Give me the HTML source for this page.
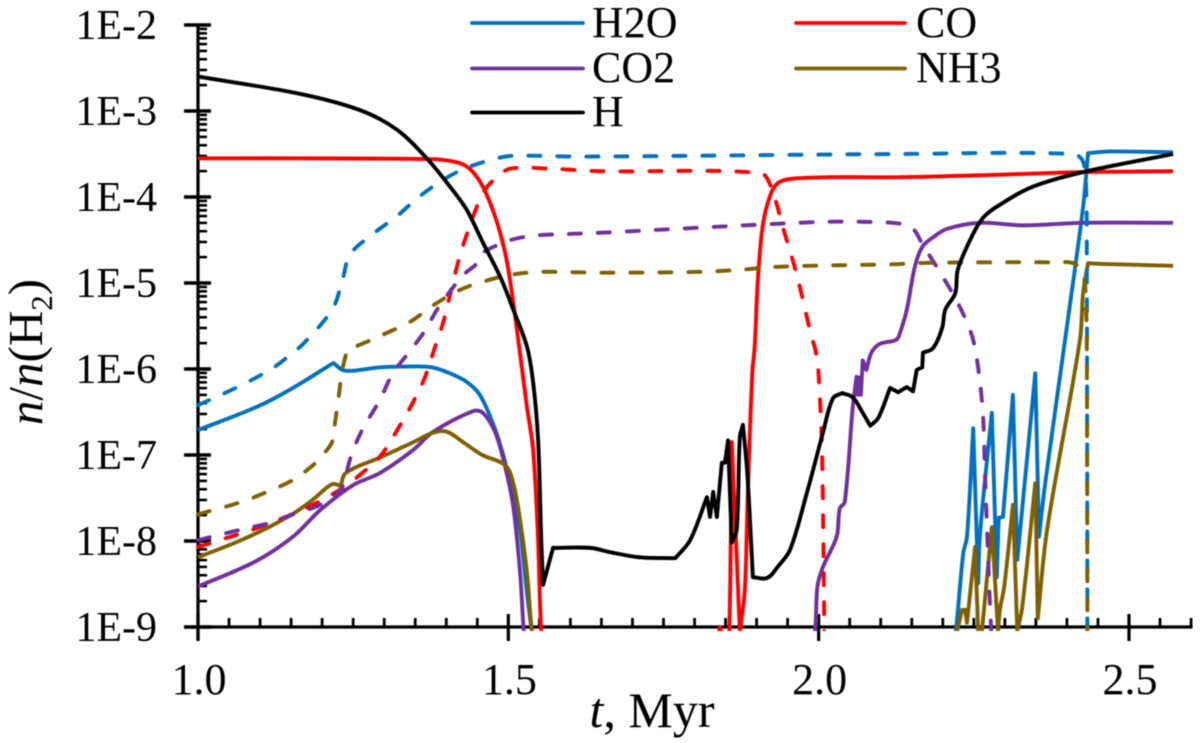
<!DOCTYPE html>
<html lang="en">
<head>
<meta charset="utf-8">
<title>Abundances vs time</title>
<style>
html,body{margin:0;padding:0;background:#fff;}
svg{display:block;filter:blur(0.4px);}
text{font-family:"Liberation Serif",serif;fill:#000;}
</style>
</head>
<body>
<svg id="chart" xmlns="http://www.w3.org/2000/svg" width="1200" height="743" viewBox="0 0 1200 743">
  <defs>
    <clipPath id="plot-clip"><rect x="196" y="20" width="1000" height="611"></rect></clipPath>
  </defs>
  <g id="axes"></g>
  <g id="series" clip-path="url(#plot-clip)"></g>
  <text x="652" y="727" font-size="50" text-anchor="middle"><tspan font-style="italic">t</tspan>, Myr</text>
  <text transform="translate(42,352) rotate(-90)" font-size="49" text-anchor="middle"><tspan font-style="italic">n</tspan>/<tspan font-style="italic">n</tspan>(H<tspan font-size="31" dy="10">2</tspan><tspan dy="-10">)</tspan></text>
  <g>
    <g>
      <line x1="472" y1="23" x2="583" y2="23" stroke="#0070C0" stroke-width="3.8" stroke-linecap="round"></line>
      <text x="592" y="37" font-size="44">H2O</text>
    </g>
    <g>
      <line x1="796" y1="23" x2="905" y2="23" stroke="#FF0000" stroke-width="3.8" stroke-linecap="round"></line>
      <text x="916" y="37" font-size="44">CO</text>
    </g>
    <g>
      <line x1="472" y1="68.5" x2="583" y2="68.5" stroke="#7030A0" stroke-width="3.8" stroke-linecap="round"></line>
      <text x="592" y="82" font-size="44">CO2</text>
    </g>
    <g>
      <line x1="796" y1="68.5" x2="905" y2="68.5" stroke="#7F6000" stroke-width="3.8" stroke-linecap="round"></line>
      <text x="916" y="82" font-size="44">NH3</text>
    </g>
    <g>
      <line x1="472" y1="112.5" x2="583" y2="112.5" stroke="#000" stroke-width="3.8" stroke-linecap="round"></line>
      <text x="592" y="126" font-size="44">H</text>
    </g>
  </g>
</svg>
<script>
// Tick data
const xMajorTicks = [1.0, 1.5, 2.0, 2.5];
const xTickLabels = ["1.0", "1.5", "2.0", "2.5"];
const yDecades = [-2, -3, -4, -5, -6, -7, -8, -9];
const yTickLabels = ["1E-2", "1E-3", "1E-4", "1E-5", "1E-6", "1E-7", "1E-8", "1E-9"];
const xMin = 1.0;
const xMax = 2.6;
const xMinorStep = 0.05;

// Series data: time in Myr, abundance as log10(n/n(H2))
const h2oSolidT = [1.000,1.095,1.153,1.218,1.237,1.293,1.347,1.377,1.406,1.433,1.454,1.475,1.491,1.508,1.519,1.530,1.538,1.545,2.215,2.221,2.233,2.239,2.249,2.257,2.260,2.279,2.287,2.290,2.297,2.313,2.320,2.349,2.355,2.365,2.397,2.426,2.434,2.469,2.571];
const h2oSolidLog = [-6.71,-6.44,-6.22,-5.93,-6.02,-5.98,-5.97,-5.98,-6.05,-6.15,-6.30,-6.63,-6.98,-7.49,-7.87,-8.60,-9.05,-9.30,-9.30,-9.05,-8.14,-7.95,-6.69,-8.49,-7.91,-6.51,-8.42,-7.73,-7.72,-6.30,-8.22,-6.05,-7.95,-7.33,-5.66,-4.12,-3.49,-3.47,-3.48];

const coSolidT = [1.000,1.164,1.379,1.406,1.427,1.443,1.459,1.475,1.487,1.498,1.508,1.516,1.530,1.540,1.548,1.553,1.559,1.832,1.841,1.851,1.856,1.860,1.873,1.881,1.886,1.893,1.897,1.902,1.910,1.922,1.934,1.954,2.018,2.131,2.292,2.426,2.571];
const coSolidLog = [-3.55,-3.55,-3.56,-3.58,-3.62,-3.71,-3.88,-4.15,-4.42,-4.76,-5.23,-5.66,-6.44,-6.94,-7.99,-9.04,-9.30,-9.30,-9.00,-9.30,-9.05,-6.85,-9.05,-8.57,-7.41,-6.05,-5.74,-4.97,-4.33,-3.98,-3.84,-3.79,-3.77,-3.77,-3.74,-3.71,-3.70];

const co2SolidT = [1.000,1.092,1.153,1.197,1.250,1.293,1.347,1.379,1.443,1.459,1.479,1.495,1.508,1.519,1.525,1.530,1.985,1.994,1.998,2.007,2.029,2.034,2.042,2.055,2.061,2.063,2.066,2.068,2.071,2.077,2.085,2.098,2.125,2.131,2.142,2.155,2.167,2.184,2.207,2.260,2.329,2.426,2.571];
const co2SolidLog = [-8.53,-8.24,-7.95,-7.64,-7.35,-7.21,-6.94,-6.73,-6.49,-6.51,-6.74,-7.14,-7.60,-8.37,-9.05,-9.30,-9.30,-9.05,-8.53,-8.30,-7.95,-7.62,-7.55,-6.44,-6.09,-6.30,-6.10,-6.30,-5.90,-6.01,-5.81,-5.71,-5.66,-5.58,-5.31,-4.81,-4.58,-4.47,-4.37,-4.30,-4.33,-4.30,-4.30];

const nh3SolidT = [1.000,1.063,1.111,1.156,1.185,1.216,1.230,1.238,1.293,1.347,1.379,1.401,1.427,1.458,1.495,1.508,1.519,1.530,1.538,1.545,2.215,2.223,2.231,2.236,2.239,2.252,2.257,2.263,2.279,2.289,2.292,2.299,2.313,2.320,2.328,2.349,2.353,2.368,2.421,2.426,2.434,2.465,2.571];
const nh3SolidLog = [-8.19,-8.01,-7.85,-7.67,-7.52,-7.34,-7.36,-7.21,-7.03,-6.85,-6.74,-6.73,-6.85,-7.00,-7.12,-7.33,-7.76,-8.37,-9.05,-9.30,-9.30,-9.05,-8.80,-8.80,-8.95,-8.07,-9.05,-9.05,-7.84,-9.05,-8.80,-8.53,-7.58,-9.05,-8.77,-7.33,-8.90,-7.87,-5.66,-5.12,-4.77,-4.78,-4.80];

const hSolidT = [1.000,1.164,1.261,1.321,1.371,1.406,1.433,1.459,1.487,1.508,1.530,1.540,1.548,1.553,1.556,1.572,1.632,1.664,1.712,1.769,1.793,1.820,1.825,1.830,1.836,1.844,1.849,1.854,1.860,1.868,1.873,1.878,1.885,1.894,1.917,1.934,1.954,1.981,2.007,2.023,2.038,2.055,2.071,2.083,2.096,2.115,2.128,2.142,2.152,2.158,2.167,2.168,2.184,2.199,2.204,2.220,2.224,2.244,2.265,2.292,2.345,2.426,2.571];
const hSolidLog = [-2.60,-2.80,-2.99,-3.22,-3.57,-3.88,-4.15,-4.53,-4.93,-5.31,-5.74,-6.16,-6.83,-7.99,-8.51,-8.08,-8.08,-8.13,-8.19,-8.20,-7.99,-7.49,-7.72,-7.43,-7.72,-7.09,-7.09,-6.83,-8.02,-7.87,-6.79,-6.65,-7.21,-8.42,-8.43,-8.30,-8.10,-7.44,-6.74,-6.34,-6.28,-6.33,-6.51,-6.66,-6.57,-6.22,-6.27,-6.21,-6.26,-6.01,-5.98,-5.81,-5.76,-5.52,-5.31,-5.12,-4.85,-4.50,-4.24,-4.09,-3.88,-3.71,-3.50];

const h2oDashT = [1.000,1.055,1.116,1.153,1.172,1.216,1.232,1.245,1.280,1.321,1.354,1.395,1.433,1.482,1.508,1.620,2.131,2.410,2.426,2.431,2.432,2.433];
const h2oDashLog = [-6.42,-6.24,-6.01,-5.81,-5.69,-5.31,-4.99,-4.67,-4.44,-4.22,-4.01,-3.80,-3.66,-3.55,-3.52,-3.53,-3.50,-3.50,-3.59,-3.92,-4.58,-9.05];

const coDashT = [1.000,1.044,1.095,1.148,1.185,1.234,1.261,1.293,1.321,1.347,1.366,1.383,1.395,1.409,1.419,1.430,1.454,1.466,1.482,1.503,1.567,1.648,1.906,1.922,1.946,1.965,1.986,1.997,2.002,2.005,2.007,2.009];
const coDashLog = [-8.07,-7.97,-7.85,-7.70,-7.58,-7.38,-7.23,-7.02,-6.71,-6.38,-6.09,-5.72,-5.46,-5.05,-4.76,-4.50,-4.03,-3.88,-3.77,-3.67,-3.67,-3.70,-3.72,-3.86,-4.44,-4.91,-5.55,-5.86,-6.33,-6.83,-7.60,-9.05];

const co2DashT = [1.000,1.079,1.121,1.160,1.197,1.229,1.237,1.248,1.266,1.293,1.314,1.345,1.366,1.387,1.427,1.450,1.459,1.482,1.498,1.540,1.636,2.002,2.083,2.131,2.152,2.168,2.196,2.224,2.244,2.252,2.260,2.265,2.268,2.275,2.278];
const co2DashLog = [-7.99,-7.85,-7.78,-7.67,-7.58,-7.41,-7.26,-6.98,-6.69,-6.36,-6.05,-5.76,-5.55,-5.29,-4.91,-4.77,-4.65,-4.56,-4.51,-4.45,-4.42,-4.29,-4.29,-4.31,-4.37,-4.56,-4.88,-5.23,-5.55,-5.76,-6.16,-6.56,-7.21,-8.57,-9.05];

const nh3DashT = [1.000,1.068,1.111,1.153,1.185,1.201,1.216,1.219,1.226,1.232,1.240,1.280,1.298,1.342,1.379,1.422,1.466,1.508,1.551,1.648,1.809,1.866,1.939,2.131,2.147,2.260,2.384,2.410,2.426,2.431,2.432,2.433];
const nh3DashLog = [-7.69,-7.55,-7.43,-7.29,-7.12,-7.00,-6.85,-6.71,-6.36,-6.03,-5.78,-5.66,-5.60,-5.45,-5.26,-5.08,-4.97,-4.90,-4.87,-4.88,-4.87,-4.85,-4.81,-4.78,-4.77,-4.76,-4.76,-4.77,-4.88,-5.35,-5.66,-9.05];

// Axis functions
const X_LEFT = 198, PX_PER_MYR = 620.67, Y_TOP = 25, PX_PER_DECADE = 86;
function xScale(t) { return X_LEFT + (t - 1.0) * PX_PER_MYR; }
function yScale(lg) { return Y_TOP + (-2 - lg) * PX_PER_DECADE; }

const NS = "http://www.w3.org/2000/svg";
const axes = document.getElementById("axes");
const seriesGroup = document.getElementById("series");

function axisLine(x1, y1, x2, y2, w, name) {
  const l = document.createElementNS(NS, "line");
  l.setAttribute("x1", x1);
  l.setAttribute("y1", y1);
  l.setAttribute("x2", x2);
  l.setAttribute("y2", y2);
  l.setAttribute("stroke", "#000");
  l.setAttribute("stroke-width", w);
  
  
  axes.appendChild(l);
}
function axisText(x, y, str, anchor, size, name) {
  const t = document.createElementNS(NS, "text");
  t.setAttribute("x", x);
  t.setAttribute("y", y);
  t.setAttribute("font-size", size);
  t.setAttribute("text-anchor", anchor);
  t.textContent = str;
  
  
  axes.appendChild(t);
}

const yBottom = yScale(yDecades[yDecades.length - 1]);
axisLine(X_LEFT, yScale(yDecades[0]) - 1.5, X_LEFT, yBottom + 14, 3.2, "y-axis-line");
axisLine(184, yBottom, xScale(xMax) + 1.5, yBottom, 3.2, "x-axis-line");

yDecades.forEach(function (d, i) {
  axisLine(184, yScale(d), 211, yScale(d), 3.4, "y-major-tick");
  axisText(157, yScale(d) + 14, yTickLabels[i], "end", 42, "y-tick-label");
  if (i < yDecades.length - 1) {
    for (let m = 2; m <= 9; m++) {
      const ym = yScale(d - 1 + Math.log10(m));
      axisLine(X_LEFT, ym, 207, ym, 2.6, "y-minor-tick");
    }
  }
});

const nMinor = Math.round((xMax - xMin) / xMinorStep);
for (let k = 0; k <= nMinor; k++) {
  const tv = xMin + k * xMinorStep;
  axisLine(xScale(tv), yBottom - 9, xScale(tv), yBottom, 2.8, "x-minor-tick");
}
xMajorTicks.forEach(function (t, i) {
  axisLine(xScale(t), yBottom - 13, xScale(t), yBottom + 14, 3.2, "x-major-tick");
  axisText(xScale(t) + 1, 694, xTickLabels[i], "middle", 44, "x-tick-label");
});

// Builds a path that rounds gentle bends and leaves sharp spikes as corners.
function buildPath(tArr, logArr) {
  const pts = tArr.map(function (t, i) { return [xScale(t), yScale(logArr[i])]; });
  const tangents = pts.map(function (p, i) {
    if (i === 0 || i === pts.length - 1) return null;
    const ax = p[0] - pts[i - 1][0], ay = p[1] - pts[i - 1][1];
    const bx = pts[i + 1][0] - p[0], by = pts[i + 1][1] - p[1];
    const la = Math.hypot(ax, ay), lb = Math.hypot(bx, by);
    if (la === 0 || lb === 0) return null;
    const cos = (ax * bx + ay * by) / (la * lb);
    if (cos < 0.64) return null;
    const tx = pts[i + 1][0] - pts[i - 1][0], ty = pts[i + 1][1] - pts[i - 1][1];
    const lt = Math.hypot(tx, ty);
    return [tx / lt, ty / lt];
  });
  let d = "M" + pts[0][0].toFixed(2) + " " + pts[0][1].toFixed(2);
  for (let i = 0; i < pts.length - 1; i++) {
    const p = pts[i], q = pts[i + 1];
    const len = Math.hypot(q[0] - p[0], q[1] - p[1]);
    const ux = len ? (q[0] - p[0]) / len : 0, uy = len ? (q[1] - p[1]) / len : 0;
    const t0 = tangents[i] || [ux, uy], t1 = tangents[i + 1] || [ux, uy];
    d += "C" + (p[0] + t0[0] * len / 3).toFixed(2) + " " + (p[1] + t0[1] * len / 3).toFixed(2) + " " +
         (q[0] - t1[0] * len / 3).toFixed(2) + " " + (q[1] - t1[1] * len / 3).toFixed(2) + " " +
         q[0].toFixed(2) + " " + q[1].toFixed(2);
  }
  return d;
}

function drawSeries(tArr, logArr, color, dashed, name) {
  const p = document.createElementNS(NS, "path");
  p.setAttribute("d", buildPath(tArr, logArr));
  p.setAttribute("fill", "none");
  p.setAttribute("stroke", color);
  p.setAttribute("stroke-width", "3.9");
  p.setAttribute("stroke-linejoin", "round");
  if (dashed) {
    p.setAttribute("stroke-dasharray", "12 17");
    p.setAttribute("stroke-linecap", "round");
  }
  
  
  seriesGroup.appendChild(p);
}

drawSeries(h2oSolidT, h2oSolidLog, "#0070C0", false, "h2o-solid-line");
drawSeries(coSolidT, coSolidLog, "#FF0000", false, "co-solid-line");
drawSeries(co2SolidT, co2SolidLog, "#7030A0", false, "co2-solid-line");
drawSeries(nh3SolidT, nh3SolidLog, "#7F6000", false, "nh3-solid-line");
drawSeries(h2oDashT, h2oDashLog, "#0070C0", true, "h2o-dashed-line");
drawSeries(coDashT, coDashLog, "#FF0000", true, "co-dashed-line");
drawSeries(co2DashT, co2DashLog, "#7030A0", true, "co2-dashed-line");
drawSeries(nh3DashT, nh3DashLog, "#7F6000", true, "nh3-dashed-line");
drawSeries(hSolidT, hSolidLog, "#000000", false, "h-solid-line");
</script>
</body>
</html>
